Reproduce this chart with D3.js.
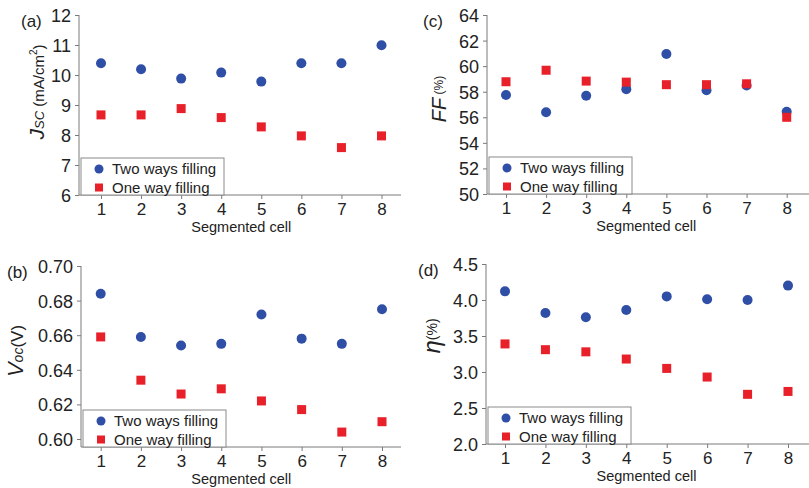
<!DOCTYPE html>
<html>
<head>
<meta charset="utf-8">
<script src="https://cdn.jsdelivr.net/npm/d3@7"></script>
<style>
  body { margin: 0; background: #fff; }
  svg { font-family: "Liberation Sans", Arial, sans-serif; }
</style>
</head>
<body>
<svg id="chart" width="809" height="488"></svg>
<script>
// data
const cells = [1, 2, 3, 4, 5, 6, 7, 8];
const seriesNames = ["Two ways filling", "One way filling"];

const jscTwo = [10.39, 10.19, 9.88, 10.08, 9.78, 10.39, 10.39, 10.99];
const jscOne = [8.67, 8.67, 8.88, 8.58, 8.27, 7.97, 7.58, 7.97];

const vocTwo = [0.684, 0.659, 0.654, 0.655, 0.672, 0.658, 0.655, 0.675];
const vocOne = [0.659, 0.634, 0.626, 0.629, 0.622, 0.617, 0.604, 0.610];

const ffTwo = [57.75, 56.4, 57.68, 58.2, 60.95, 58.12, 58.48, 56.43];
const ffOne = [58.78, 59.68, 58.83, 58.75, 58.55, 58.55, 58.62, 56.0];

const etaTwo = [4.12, 3.82, 3.76, 3.86, 4.05, 4.01, 4.0, 4.2];
const etaOne = [3.39, 3.31, 3.28, 3.18, 3.05, 2.93, 2.69, 2.73];

const jscTicks = [6, 7, 8, 9, 10, 11, 12];
const ffTicks = [50, 52, 54, 56, 58, 60, 62, 64];
const vocTicks = [0.60, 0.62, 0.64, 0.66, 0.68, 0.70];
const etaTicks = [2.0, 2.5, 3.0, 3.5, 4.0, 4.5];

const blue = "#2f4ea6";
const red = "#e8202a";
const axisColor = "#7a7a7a";

const svg = d3.select("#chart");

const drawPanel = (cfg) => {
  const g = svg.append("g");

  const x = d3.scaleLinear().domain([1, 8]).range([cfg.x1, cfg.x8]);
  const y = d3.scaleLinear().domain(cfg.yDomain).range(cfg.yRange);

  // y axis
  const ya = g.append("g")
    .attr("transform", `translate(${cfg.left},0)`)
    .call(d3.axisLeft(y).tickValues(cfg.ticks).tickFormat(cfg.fmt).tickSize(4).tickPadding(4));
  ya.select(".domain").remove();
  ya.selectAll(".tick line").attr("stroke", axisColor);
  ya.selectAll(".tick text").attr("font-size", 18).attr("fill", "#222").attr("dy", "0.36em");

  // x axis
  const xa = g.append("g")
    .attr("transform", `translate(0,${cfg.bottom})`)
    .call(d3.axisBottom(x).tickValues(cells).tickFormat(d3.format("d")).tickSize(4).tickPadding(4));
  xa.select(".domain").remove();
  xa.selectAll(".tick line").attr("stroke", axisColor);
  xa.selectAll(".tick text").attr("font-size", 17).attr("fill", "#222");

  g.append("line")
    .attr("x1", cfg.left).attr("x2", cfg.left)
    .attr("y1", cfg.top).attr("y2", cfg.bottom)
    .attr("stroke", axisColor);
  g.append("line")
    .attr("x1", cfg.left).attr("x2", cfg.right)
    .attr("y1", cfg.bottom).attr("y2", cfg.bottom)
    .attr("stroke", axisColor);

  // legend box
  const lg = g.append("g").attr("transform", `translate(${cfg.left + 2},${cfg.bottom - 37})`);
  lg.append("rect")
    .attr("width", 143).attr("height", 37)
    .attr("fill", "#fff").attr("stroke", "#8a8a8a");
  lg.append("circle").attr("cx", 18).attr("cy", 11).attr("r", 4.5).attr("fill", blue);
  lg.append("rect").attr("x", 14).attr("y", 25.5).attr("width", 8).attr("height", 8).attr("fill", red);
  lg.selectAll("text.leg")
    .data(seriesNames)
    .join("text")
    .attr("class", "leg")
    .attr("x", 31)
    .attr("y", (d, i) => 16 + i * 19)
    .attr("font-size", 15)
    .attr("fill", "#222")
    .text((d) => d);

  // points
  g.selectAll("circle.two")
    .data(cfg.two)
    .join("circle")
    .attr("class", "two")
    .attr("cx", (d, i) => x(cells[i]))
    .attr("cy", (d) => y(d))
    .attr("r", 5)
    .attr("fill", blue);

  g.selectAll("rect.one")
    .data(cfg.one)
    .join("rect")
    .attr("class", "one")
    .attr("x", (d, i) => x(cells[i]) - 4.5)
    .attr("y", (d) => y(d) - 4.5)
    .attr("width", 9)
    .attr("height", 9)
    .attr("fill", red);

  // x title
  g.append("text")
    .attr("x", (cfg.x1 + cfg.x8) / 2)
    .attr("y", cfg.bottom + 37)
    .attr("text-anchor", "middle")
    .attr("font-size", 14.5)
    .attr("fill", "#222")
    .text("Segmented cell");

  // panel label
  g.append("text")
    .attr("x", cfg.labelX)
    .attr("y", cfg.top + 12)
    .attr("font-size", 17)
    .attr("fill", "#222")
    .text(cfg.label);

  // y title
  const yt = g.append("text")
    .attr("transform", `translate(${cfg.titleX},${cfg.titleY}) rotate(-90)`)
    .attr("text-anchor", "middle")
    .attr("fill", "#222");
  cfg.title.forEach((p) => {
    const t = yt.append("tspan").text(p.t).attr("font-size", p.s);
    if (p.i) t.attr("font-style", "italic");
    if (p.dy) t.attr("dy", p.dy);
  });
};

drawPanel({
  label: "(a)", labelX: 21,
  left: 79, right: 401, top: 15, bottom: 195,
  x1: 101, x8: 381.5,
  yDomain: [6, 12], yRange: [195, 15],
  ticks: jscTicks, fmt: d3.format("d"),
  two: jscTwo, one: jscOne,
  titleX: 44, titleY: 92,
  title: [
    { t: "J", s: 21, i: true },
    { t: "SC", s: 13, i: true },
    { t: " (mA/cm", s: 15 },
    { t: "2", s: 10, dy: -7 },
    { t: ")", s: 15, dy: 7 },
  ],
});

drawPanel({
  label: "(c)", labelX: 423,
  left: 487, right: 809, top: 15, bottom: 194,
  x1: 506, x8: 786.7,
  yDomain: [50, 64], yRange: [194, 15],
  ticks: ffTicks, fmt: d3.format("d"),
  two: ffTwo, one: ffOne,
  titleX: 446, titleY: 99,
  title: [
    { t: "FF", s: 20, i: true },
    { t: " (%)", s: 12, dy: -3 },
  ],
});

drawPanel({
  label: "(b)", labelX: 7,
  left: 81, right: 401, top: 266, bottom: 447,
  x1: 100.7, x8: 382,
  yDomain: [0.60, 0.70], yRange: [439, 266],
  ticks: vocTicks, fmt: d3.format(".2f"),
  two: vocTwo, one: vocOne,
  titleX: 23, titleY: 351,
  title: [
    { t: "V", s: 22, i: true },
    { t: "oc", s: 14, i: true },
    { t: "(V)", s: 17 },
  ],
});

drawPanel({
  label: "(d)", labelX: 418,
  left: 486, right: 809, top: 264, bottom: 444,
  x1: 505, x8: 788,
  yDomain: [2.0, 4.5], yRange: [444, 264],
  ticks: etaTicks, fmt: d3.format(".1f"),
  two: etaTwo, one: etaOne,
  titleX: 440, titleY: 336,
  title: [
    { t: "η", s: 24, i: true },
    { t: "(%)", s: 14, dy: -3 },
  ],
});
</script>
</body>
</html>
